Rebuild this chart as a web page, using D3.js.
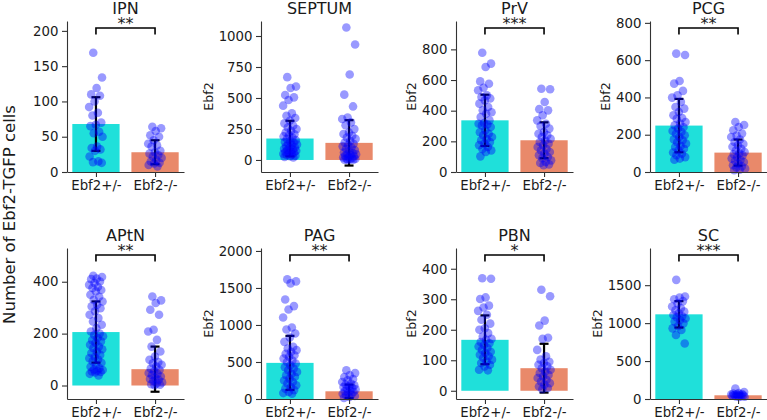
<!DOCTYPE html>
<html>
<head>
<meta charset="utf-8">
<script src="https://cdn.jsdelivr.net/npm/d3@7/dist/d3.min.js"></script>
<style>
  body { margin: 0; background: #fff; }
  svg { font-family: "DejaVu Sans", sans-serif; display: block; }
</style>
</head>
<body>
<div id="chart"></div>
<script>
// panels, left to right, top to bottom
const regions = ["IPN", "SEPTUM", "PrV", "PCG", "APtN", "PAG", "PBN", "SC"];
const genotypes = ["Ebf2+/-", "Ebf2-/-"];
const significance = ["**", "", "***", "**", "**", "**", "*", "***"];

// bar heights (mean) and error bars (sd)
const meanHet = [68, 173, 337, 249, 206, 488, 167, 1116];
const sdHet = [38, 143, 167, 143, 118, 365, 80, 174];
const meanKo = [28, 138, 207, 104, 63, 104, 74, 49];
const sdKo = [17, 183, 117, 70, 87, 90, 80, 20];

const yTicks = [
  [0, 50, 100, 150, 200],
  [0, 250, 500, 750, 1000],
  [0, 200, 400, 600, 800],
  [0, 200, 400, 600, 800],
  [0, 200, 400],
  [0, 500, 1000, 1500, 2000],
  [0, 100, 200, 300, 400],
  [0, 500, 1000, 1500],
];
const yLimits = [
  [0, 214], [-97, 1121], [0, 985], [0, 810],
  [-52, 530], [0, 2040], [-27, 468], [0, 1990],
];

// individual animals
const ipnHet = [169, 134, 119, 110, 108, 100, 92, 84, 80, 70, 67, 65, 57, 55, 50, 36, 34, 32, 30, 22, 15, 14, 13];
const ipnKo = [64, 62, 58, 52, 50, 45, 40, 38, 36, 30, 28, 26, 24, 22, 20, 17, 15, 13, 12, 10, 8];
const septumHet = [668, 592, 581, 524, 505, 484, 438, 376, 357, 338, 316, 295, 276, 262, 249, 235, 222, 208, 200, 190,
  180, 170, 160, 150, 145, 140, 130, 125, 120, 110, 100, 95, 90, 85, 80, 75, 70, 65, 60, 55, 50, 45, 40, 35, 30, 25, 20];
const septumKo = [1068, 932, 689, 527, 432, 343, 330, 303, 280, 249, 222, 210, 195, 181, 170, 154, 140, 130, 120, 110,
  100, 90, 80, 70, 60, 55, 50, 45, 40, 35, 30, 25, 20, 15, 10, 8, 5, 3, 2, 1];
const prvHet = [778, 707, 685, 591, 576, 550, 533, 500, 489, 480, 467, 446, 424, 402, 390, 380, 359, 337, 320, 315,
  310, 304, 293, 272, 260, 250, 240, 228, 215, 207, 195, 185, 175, 163, 150, 141, 130, 102];
const prvKo = [543, 540, 457, 410, 402, 370, 337, 315, 300, 283, 260, 250, 240, 228, 217, 205, 196, 185, 174, 163,
  150, 141, 130, 120, 110, 98, 90, 76, 65, 59, 50, 45];
const pcgHet = [635, 628, 488, 474, 435, 411, 399, 376, 349, 340, 322, 304, 290, 286, 268, 260, 250, 240, 233, 220,
  215, 205, 197, 188, 175, 170, 160, 152, 140, 134, 125, 116, 105, 98, 90, 80, 72, 66];
const pcgKo = [268, 252, 241, 224, 206, 195, 188, 174, 161, 150, 143, 135, 125, 115, 107, 100, 95, 89, 80, 72,
  65, 60, 54, 45, 36, 30, 25, 18, 12, 9];
const aptnHet = [423, 418, 412, 410, 401, 395, 388, 380, 376, 368, 363, 350, 342, 330, 324, 311, 305, 298, 286, 273,
  260, 247, 234, 221, 208, 200, 195, 190, 183, 175, 170, 165, 157, 150, 144, 140, 131, 125, 118, 110, 105, 100, 93,
  88, 80, 72, 67, 62, 60, 57, 54, 52, 50, 45, 39];
const aptnKo = [343, 328, 318, 292, 273, 215, 208, 176, 150, 131, 112, 99, 90, 86, 80, 73, 65, 60, 55, 48, 45, 40,
  35, 30, 25, 22, 18, 12, 8, 5, 3, 1];
const pagHet = [1616, 1589, 1562, 1345, 1255, 1210, 1102, 966, 939, 885, 831, 772, 704, 682, 660, 637, 610, 591, 570,
  546, 520, 501, 480, 456, 430, 411, 390, 366, 340, 321, 300, 275, 250, 230, 210, 185, 160, 140, 120, 95, 80, 72];
const pagKo = [388, 350, 320, 298, 270, 253, 230, 208, 195, 185, 170, 163, 150, 140, 130, 117, 105, 95, 85, 72,
  60, 50, 40, 27, 15];
const pbnHet = [369, 367, 306, 301, 279, 273, 262, 249, 233, 220, 205, 200, 189, 178, 170, 167, 160, 156, 150, 145,
  140, 134, 128, 124, 118, 113, 108, 102, 96, 91, 85, 80, 69, 67];
const pbnKo = [331, 310, 230, 214, 174, 170, 134, 113, 102, 95, 91, 85, 80, 74, 69, 63, 58, 52, 47, 42, 36, 30, 25,
  20, 14, 9, 5];
const scHet = [1570, 1350, 1337, 1315, 1290, 1260, 1218, 1195, 1170, 1151, 1130, 1107, 1090, 1076, 1060, 1041, 1020,
  997, 960, 931, 909, 843, 732];
const scKo = [137, 93, 80, 71, 65, 62, 58, 55, 52, 49, 45, 42, 38, 35, 30, 26];

const pointsHet = [ipnHet, septumHet, prvHet, pcgHet, aptnHet, pagHet, pbnHet, scHet];
const pointsKo = [ipnKo, septumKo, prvKo, pcgKo, aptnKo, pagKo, pbnKo, scKo];

const W = 767, H = 420;
const colX = [67, 261, 456, 650];
const rowY = [21, 248];
const plotW = 117, plotH = 151;
const barColors = ["#1fe0da", "#e9896a"];

const svg = d3.select("#chart").append("svg")
  .attr("width", W)
  .attr("height", H)
  .attr("viewBox", `0 0 ${W} ${H}`);

// x position inside a panel, bars sit at 0 and 1
const x = d3.scaleLinear().domain([-0.49, 1.49]).range([0, plotW]);

// fixed jitter pattern so the dots do not pile on one line
const jitter = (i) => (((i * 0.618034 + 0.31) % 1) - 0.5) * 0.24;

regions.forEach((name, p) => {
  const col = p % 4, row = Math.floor(p / 4);
  const g = svg.append("g")
    .attr("transform", `translate(${colX[col]},${rowY[row]})`);

  const y = d3.scaleLinear().domain(yLimits[p]).range([plotH, 0]);

  const groups = [
    { mean: meanHet[p], sd: sdHet[p], pts: pointsHet[p] },
    { mean: meanKo[p], sd: sdKo[p], pts: pointsKo[p] },
  ];

  // bars
  g.selectAll("rect.bar").data(groups).join("rect")
    .attr("class", "bar")
    .attr("x", (d, i) => x(i - 0.4))
    .attr("width", x(0.4) - x(-0.4))
    .attr("y", (d) => y(Math.max(0, d.mean)))
    .attr("height", (d) => Math.abs(y(0) - y(d.mean)))
    .attr("fill", (d, i) => barColors[i]);

  // error bars
  const eb = g.selectAll("g.err").data(groups).join("g").attr("class", "err");
  eb.append("line")
    .attr("x1", (d, i) => x(i)).attr("x2", (d, i) => x(i))
    .attr("y1", (d) => y(d.mean - d.sd)).attr("y2", (d) => y(d.mean + d.sd));
  [-1, 1].forEach((s) => {
    eb.append("line")
      .attr("x1", (d, i) => x(i) - 4.5).attr("x2", (d, i) => x(i) + 4.5)
      .attr("y1", (d) => y(d.mean + s * d.sd)).attr("y2", (d) => y(d.mean + s * d.sd));
  });
  eb.selectAll("line").attr("stroke", "#000").attr("stroke-width", 2.2);

  // individual points
  groups.forEach((grp, i) => {
    g.append("g").selectAll("circle").data(grp.pts).join("circle")
      .attr("cx", (v, k) => x(i + jitter(k)))
      .attr("cy", (v) => y(v))
      .attr("r", 4.3)
      .attr("fill", "#0000ff")
      .attr("fill-opacity", 0.4);
  });

  // axes, left + bottom spines only
  const yAxis = g.append("g")
    .call(d3.axisLeft(y).tickValues(yTicks[p]).tickFormat(d3.format("d"))
      .tickSize(5).tickPadding(3.5).tickSizeOuter(0));
  const xAxis = g.append("g")
    .attr("transform", `translate(0,${plotH})`)
    .call(d3.axisBottom(x).tickValues([0, 1]).tickFormat((d) => genotypes[d])
      .tickSize(5).tickPadding(4).tickSizeOuter(0));
  [yAxis, xAxis].forEach((a) => {
    a.select(".domain").attr("stroke", "#333").attr("stroke-width", 1.1);
    a.selectAll(".tick line").attr("stroke", "#333").attr("stroke-width", 1.1);
    a.selectAll("text").attr("font-size", 13.3).attr("fill", "#1a1a1a")
      .attr("font-family", "DejaVu Sans, sans-serif");
  });

  // title
  g.append("text")
    .attr("x", plotW / 2).attr("y", -7.5)
    .attr("text-anchor", "middle")
    .attr("font-size", 16).attr("fill", "#1a1a1a")
    .text(name);

  // per-panel y label, first column uses the shared one
  if (col > 0) {
    const bb = yAxis.node().getBBox();
    g.append("text")
      .attr("transform", `translate(${bb.x - 6},${plotH / 2}) rotate(-90)`)
      .attr("text-anchor", "middle")
      .attr("font-size", 12.6).attr("fill", "#1a1a1a")
      .text("Ebf2");
  }

  // significance bracket
  if (significance[p]) {
    const by = 7, leg = 13.5;
    g.append("path")
      .attr("d", `M${x(0)},${leg}V${by}H${x(1)}V${leg}`)
      .attr("fill", "none").attr("stroke", "#000").attr("stroke-width", 1.6);
    g.append("text")
      .attr("x", (x(0) + x(1)) / 2).attr("y", by + 1)
      .attr("text-anchor", "middle")
      .attr("font-size", 16).attr("fill", "#1a1a1a")
      .text(significance[p]);
  }
});

svg.append("text")
  .attr("transform", "translate(15,214.5) rotate(-90)")
  .attr("text-anchor", "middle")
  .attr("font-size", 16.5).attr("fill", "#1a1a1a")
  .text("Number of Ebf2-TGFP cells");
</script>
</body>
</html>
